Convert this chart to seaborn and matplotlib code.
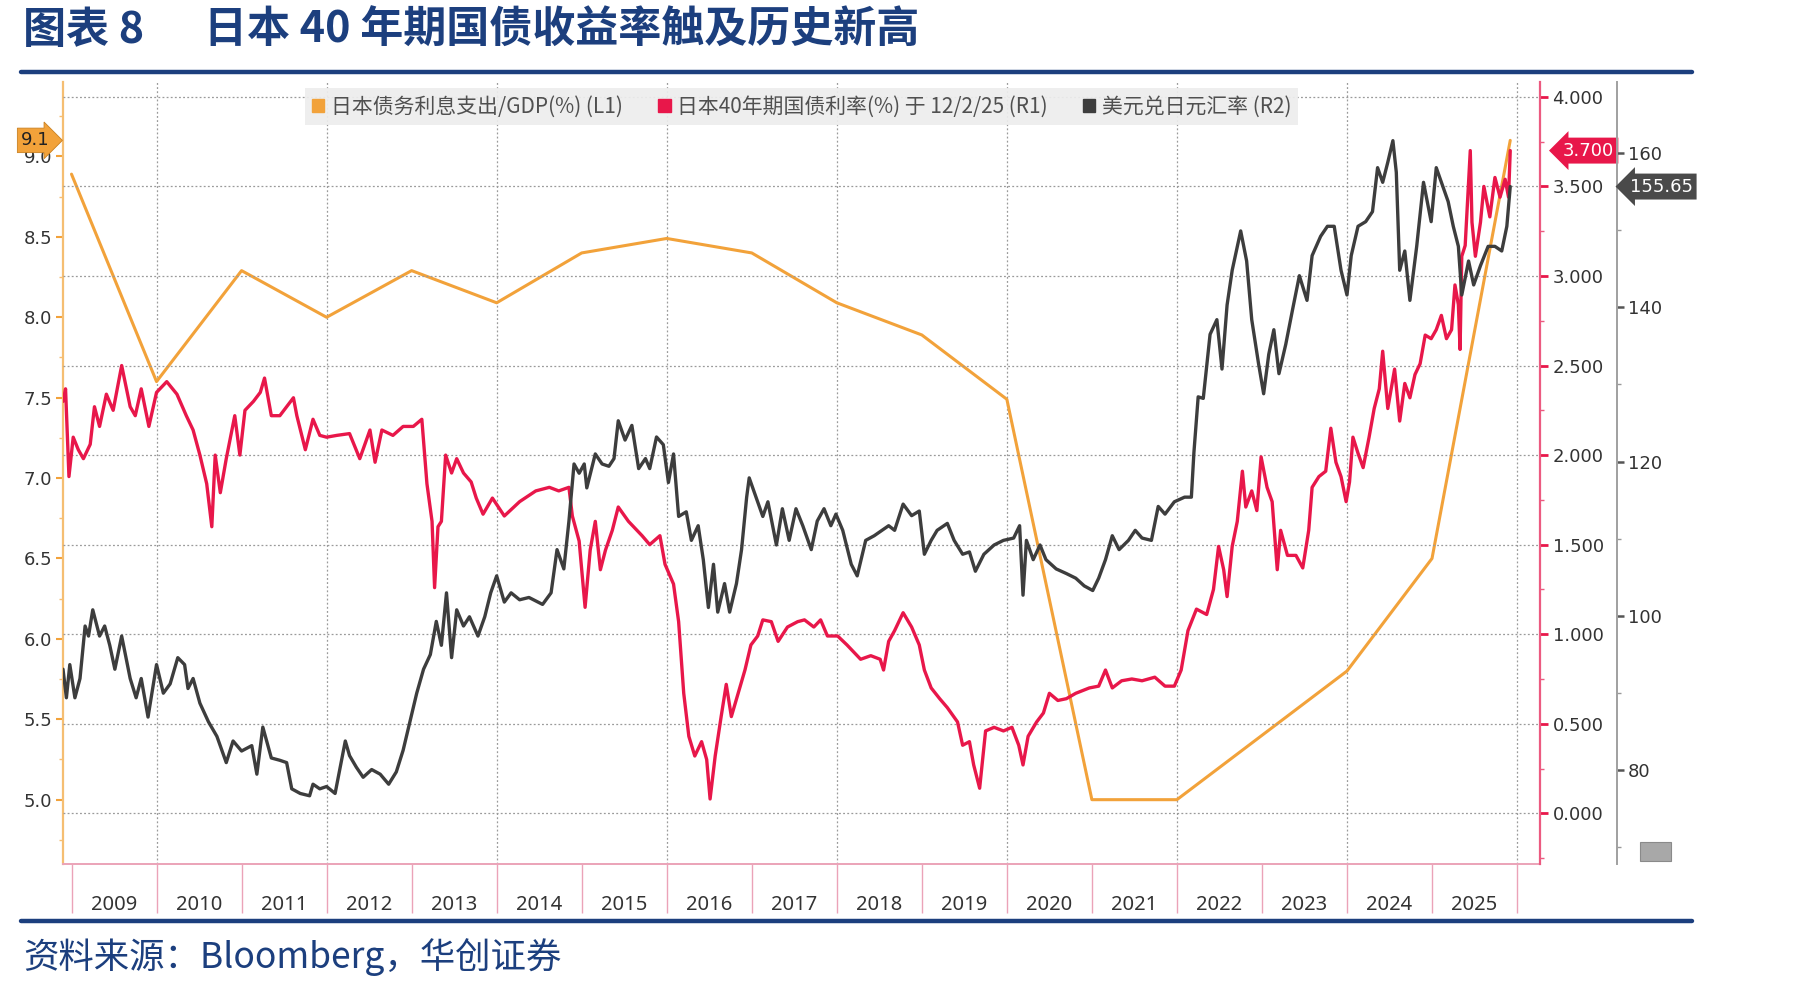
import matplotlib
matplotlib.use("Agg")
import matplotlib.pyplot as plt
import matplotlib.transforms as mtransforms
from matplotlib.patches import Patch, Rectangle
from matplotlib.lines import Line2D
from matplotlib.ticker import FixedLocator, FormatStrFormatter
import seaborn as sns

# ---------- 数据 ---------- #
debt_years = [2009, 2010, 2011, 2012, 2013, 2014, 2015, 2016, 2017, 2018,
              2019, 2020, 2021, 2022, 2023, 2024, 2025, 2025.92]
debt_gdp = [8.89, 7.60, 8.29, 8.00, 8.29, 8.09, 8.40, 8.49, 8.40, 8.09,
            7.89, 7.49, 5.00, 5.00, 5.40, 5.80, 6.50, 9.10]

jgb40_t = [2008.90, 2008.93, 2008.97, 2009.02, 2009.08, 2009.14, 2009.22, 2009.27, 2009.33, 2009.41,
           2009.49, 2009.59, 2009.69, 2009.75, 2009.82, 2009.91, 2010.00, 2010.12, 2010.24, 2010.35,
           2010.43, 2010.51, 2010.59, 2010.65, 2010.69, 2010.75, 2010.82, 2010.92, 2010.98, 2011.04,
           2011.14, 2011.22, 2011.27, 2011.35, 2011.45, 2011.53, 2011.61, 2011.65, 2011.75, 2011.84,
           2011.92, 2012.00, 2012.12, 2012.27, 2012.39, 2012.51, 2012.57, 2012.65, 2012.78, 2012.90,
           2013.02, 2013.12, 2013.18, 2013.24, 2013.27, 2013.31, 2013.35, 2013.40, 2013.47, 2013.53,
           2013.61, 2013.70, 2013.76, 2013.84, 2013.95, 2014.09, 2014.27, 2014.46, 2014.62, 2014.73,
           2014.85, 2014.89, 2014.97, 2015.04, 2015.10, 2015.16, 2015.22, 2015.28, 2015.36, 2015.43,
           2015.55, 2015.71, 2015.80, 2015.92, 2015.98, 2016.08, 2016.14, 2016.20, 2016.26, 2016.33,
           2016.41, 2016.47, 2016.51, 2016.57, 2016.64, 2016.70, 2016.76, 2016.84, 2016.92, 2016.99,
           2017.07, 2017.13, 2017.23, 2017.31, 2017.42, 2017.54, 2017.62, 2017.73, 2017.81, 2017.89,
           2018.01, 2018.12, 2018.28, 2018.40, 2018.51, 2018.55, 2018.61, 2018.68, 2018.78, 2018.88,
           2018.97, 2019.03, 2019.11, 2019.21, 2019.30, 2019.42, 2019.48, 2019.56, 2019.61, 2019.68,
           2019.75, 2019.85, 2019.96, 2020.06, 2020.14, 2020.19, 2020.25, 2020.35, 2020.43, 2020.50,
           2020.60, 2020.70, 2020.81, 2020.97, 2021.08, 2021.16, 2021.24, 2021.35, 2021.47, 2021.59,
           2021.74, 2021.86, 2021.97, 2022.05, 2022.13, 2022.23, 2022.35, 2022.43, 2022.49, 2022.55,
           2022.59, 2022.65, 2022.71, 2022.77, 2022.81, 2022.88, 2022.94, 2022.99, 2023.06, 2023.12,
           2023.18, 2023.22, 2023.30, 2023.40, 2023.48, 2023.55, 2023.59, 2023.67, 2023.75, 2023.81,
           2023.87, 2023.93, 2023.99, 2024.03, 2024.07, 2024.13, 2024.19, 2024.26, 2024.32, 2024.38,
           2024.42, 2024.48, 2024.56, 2024.62, 2024.68, 2024.74, 2024.80, 2024.86, 2024.92, 2024.99,
           2025.05, 2025.11, 2025.17, 2025.23, 2025.27, 2025.31, 2025.33, 2025.35, 2025.39, 2025.45,
           2025.47, 2025.51, 2025.57, 2025.61, 2025.68, 2025.74, 2025.80, 2025.86, 2025.90, 2025.92]
jgb40 = [2.30, 2.37, 1.88, 2.10, 2.03, 1.98, 2.06, 2.27, 2.16, 2.34,
         2.25, 2.50, 2.27, 2.22, 2.37, 2.16, 2.35, 2.41, 2.34, 2.22,
         2.14, 2.00, 1.84, 1.60, 2.00, 1.79, 1.98, 2.22, 2.00, 2.25,
         2.30, 2.35, 2.43, 2.22, 2.22, 2.27, 2.32, 2.22, 2.03, 2.20,
         2.11, 2.10, 2.11, 2.12, 1.98, 2.14, 1.96, 2.14, 2.11, 2.16,
         2.16, 2.20, 1.84, 1.63, 1.26, 1.60, 1.63, 2.00, 1.90, 1.98,
         1.90, 1.85, 1.76, 1.67, 1.76, 1.66, 1.74, 1.80, 1.82, 1.80,
         1.82, 1.66, 1.52, 1.15, 1.47, 1.63, 1.36, 1.47, 1.58, 1.71,
         1.63, 1.55, 1.50, 1.55, 1.39, 1.28, 1.07, 0.67, 0.43, 0.32,
         0.40, 0.30, 0.08, 0.32, 0.54, 0.72, 0.54, 0.67, 0.80, 0.94,
         0.99, 1.08, 1.07, 0.96, 1.04, 1.07, 1.08, 1.04, 1.08, 0.99,
         0.99, 0.94, 0.86, 0.88, 0.86, 0.80, 0.96, 1.02, 1.12, 1.04,
         0.94, 0.80, 0.70, 0.64, 0.59, 0.51, 0.38, 0.40, 0.27, 0.14,
         0.46, 0.48, 0.46, 0.48, 0.38, 0.27, 0.43, 0.51, 0.56, 0.67,
         0.63, 0.64, 0.67, 0.70, 0.71, 0.80, 0.70, 0.74, 0.75, 0.74,
         0.76, 0.71, 0.71, 0.80, 1.02, 1.14, 1.11, 1.25, 1.49, 1.36,
         1.21, 1.49, 1.63, 1.91, 1.71, 1.80, 1.69, 1.99, 1.82, 1.74,
         1.36, 1.58, 1.44, 1.44, 1.37, 1.58, 1.82, 1.88, 1.91, 2.15,
         1.96, 1.88, 1.74, 1.85, 2.10, 2.01, 1.93, 2.10, 2.26, 2.37,
         2.58, 2.26, 2.48, 2.19, 2.40, 2.32, 2.45, 2.51, 2.67, 2.65,
         2.70, 2.78, 2.65, 2.70, 2.95, 2.84, 2.59, 3.11, 3.17, 3.70,
         3.30, 3.11, 3.30, 3.50, 3.33, 3.55, 3.44, 3.54, 3.44, 3.70]

usdjpy_t = [2008.90, 2008.94, 2008.98, 2009.04, 2009.10, 2009.16, 2009.20, 2009.25, 2009.33, 2009.39,
            2009.45, 2009.51, 2009.59, 2009.69, 2009.76, 2009.82, 2009.90, 2010.00, 2010.08, 2010.16,
            2010.25, 2010.33, 2010.37, 2010.43, 2010.51, 2010.61, 2010.71, 2010.82, 2010.90, 2011.00,
            2011.12, 2011.18, 2011.25, 2011.35, 2011.45, 2011.53, 2011.59, 2011.69, 2011.80, 2011.84,
            2011.92, 2012.00, 2012.10, 2012.22, 2012.27, 2012.35, 2012.43, 2012.53, 2012.63, 2012.73,
            2012.82, 2012.90, 2012.98, 2013.06, 2013.14, 2013.22, 2013.29, 2013.35, 2013.41, 2013.47,
            2013.53, 2013.61, 2013.68, 2013.78, 2013.86, 2013.93, 2014.00, 2014.09, 2014.17, 2014.27,
            2014.38, 2014.54, 2014.64, 2014.71, 2014.79, 2014.85, 2014.91, 2014.97, 2015.03, 2015.06,
            2015.16, 2015.24, 2015.32, 2015.38, 2015.43, 2015.51, 2015.59, 2015.67, 2015.75, 2015.80,
            2015.88, 2015.96, 2016.02, 2016.08, 2016.14, 2016.23, 2016.29, 2016.37, 2016.43, 2016.49,
            2016.55, 2016.60, 2016.68, 2016.74, 2016.82, 2016.88, 2016.94, 2016.97, 2017.05, 2017.13,
            2017.19, 2017.29, 2017.36, 2017.44, 2017.52, 2017.60, 2017.70, 2017.77, 2017.85, 2017.93,
            2017.99, 2018.07, 2018.17, 2018.24, 2018.34, 2018.44, 2018.61, 2018.68, 2018.78, 2018.88,
            2018.97, 2019.03, 2019.11, 2019.18, 2019.30, 2019.38, 2019.48, 2019.56, 2019.63, 2019.73,
            2019.85, 2019.96, 2020.08, 2020.15, 2020.19, 2020.23, 2020.31, 2020.39, 2020.46, 2020.58,
            2020.70, 2020.81, 2020.91, 2021.01, 2021.08, 2021.16, 2021.24, 2021.32, 2021.43, 2021.51,
            2021.59, 2021.70, 2021.78, 2021.86, 2021.97, 2022.09, 2022.17, 2022.20, 2022.25, 2022.31,
            2022.39, 2022.47, 2022.53, 2022.59, 2022.65, 2022.75, 2022.82, 2022.88, 2022.96, 2023.02,
            2023.08, 2023.14, 2023.20, 2023.28, 2023.36, 2023.44, 2023.53, 2023.59, 2023.69, 2023.77,
            2023.85, 2023.93, 2024.00, 2024.05, 2024.13, 2024.22, 2024.30, 2024.36, 2024.42, 2024.48,
            2024.54, 2024.58, 2024.62, 2024.68, 2024.74, 2024.82, 2024.90, 2024.99, 2025.05, 2025.11,
            2025.19, 2025.25, 2025.31, 2025.35, 2025.43, 2025.49, 2025.57, 2025.66, 2025.74, 2025.82,
            2025.88, 2025.92]
usdjpy = [93.1, 89.4, 93.7, 89.4, 91.9, 98.7, 97.4, 100.8, 97.4, 98.7,
          96.2, 93.1, 97.4, 91.9, 89.4, 91.9, 86.9, 93.7, 90.0, 91.2,
          94.6, 93.7, 90.6, 91.9, 88.7, 86.3, 84.4, 81.0, 83.8, 82.5,
          83.2, 79.5, 85.6, 81.6, 81.3, 81.0, 77.6, 77.0, 76.7, 78.2,
          77.6, 77.9, 77.0, 83.8, 81.9, 80.4, 79.1, 80.1, 79.5, 78.2,
          79.8, 82.6, 86.3, 90.0, 93.1, 95.0, 99.3, 96.2, 103.0, 94.6,
          100.8, 98.7, 99.9, 97.4, 99.9, 103.0, 105.2, 101.8, 103.0, 102.1,
          102.4, 101.5, 103.0, 108.6, 106.1, 112.3, 119.7, 118.5, 119.7, 116.6,
          121.0, 119.7, 119.4, 120.4, 125.3, 122.8, 124.7, 119.1, 120.4, 119.1,
          123.2, 122.2, 117.3, 121.0, 112.9, 113.5, 109.8, 111.7, 107.3, 101.1,
          106.7, 100.5, 104.2, 100.5, 104.2, 108.6, 115.4, 117.9, 115.4, 112.9,
          114.8, 109.2, 113.9, 109.8, 113.9, 111.7, 108.6, 112.3, 113.9, 111.7,
          113.2, 111.1, 106.7, 105.2, 109.8, 110.4, 111.7, 111.1, 114.5, 113.0,
          113.6, 108.0, 109.8, 111.1, 112.0, 109.8, 108.0, 108.3, 105.8, 108.0,
          109.2, 109.8, 110.1, 111.7, 102.7, 109.8, 107.3, 109.2, 107.3, 106.1,
          105.5, 104.9, 103.9, 103.3, 104.9, 107.3, 110.4, 108.6, 109.8, 111.1,
          110.1, 109.8, 114.2, 113.2, 114.8, 115.4, 115.4, 121.2, 128.4, 128.2,
          136.5, 138.4, 132.0, 140.3, 144.8, 149.9, 146.0, 138.4, 132.7, 128.8,
          133.9, 137.1, 131.4, 135.2, 139.7, 144.1, 140.9, 146.7, 149.2, 150.5,
          150.5, 144.8, 141.6, 146.7, 150.5, 151.1, 152.4, 158.1, 156.2, 158.8,
          161.6, 157.5, 144.8, 147.3, 140.9, 147.9, 156.2, 151.1, 158.1, 156.2,
          153.7, 150.5, 147.9, 141.6, 146.0, 142.9, 145.4, 147.9, 147.9, 147.3,
          150.5, 155.65]

year_labels = [str(y) for y in range(2009, 2026)]
legend_labels = ["日本债务利息支出/GDP(%) (L1)",
                 "日本40年期国债利率(%) 于 12/2/25 (R1)",
                 "美元兑日元汇率 (R2)"]
# ------------------------------------ #

C_ORANGE = "#F2A23A"
C_RED = "#E8174A"
C_GRAY = "#3D3D3D"
C_BLUE = "#1C3F7E"
CJK = ["Noto Sans CJK SC", "DejaVu Sans"]

sns.set_style("white")
plt.rcParams["font.family"] = ["DejaVu Sans", "Noto Sans CJK SC"]

W, H = 1801, 991
fig = plt.figure(figsize=(W / 100, H / 100), dpi=100)
ax = fig.add_axes([63 / W, 1 - 864 / H, (1540 - 63) / W, (864 - 82) / H])
ax_r1 = ax.twinx()
ax_r2 = ax.twinx()

# series
sns.lineplot(x=debt_years, y=debt_gdp, ax=ax, color=C_ORANGE, linewidth=2.2)
sns.lineplot(x=jgb40_t, y=jgb40, ax=ax_r1, color=C_RED, linewidth=2.4)
sns.lineplot(x=usdjpy_t, y=usdjpy, ax=ax_r2, color=C_GRAY, linewidth=2.4)

ax.set_xlim(2008.9, 2026.27)
ax.set_ylim(4.6, 9.463)
ax_r1.set_ylim(-0.283, 4.083)
ax_r2.set_ylim(67.86, 169.2)
for a in (ax, ax_r1, ax_r2):
    a.set_xlabel("")
    a.set_ylabel("")
    a.spines["top"].set_visible(False)

# grid: horizontal from R1, vertical every two years
ax_r1.set_yticks([0, 0.5, 1, 1.5, 2, 2.5, 3, 3.5, 4])
ax_r1.yaxis.grid(True, linestyle=(0, (1.5, 1.8)), color="#9a9a9a", linewidth=0.9)
for gx in range(2010, 2027, 2):
    ax.axvline(gx, color="#9a9a9a", linestyle=(0, (1.5, 1.8)), linewidth=0.9, zorder=0)

# left axis (L1)
ax.spines["left"].set_color("#F5BE72")
ax.spines["left"].set_linewidth(1.6)
ax.spines["right"].set_visible(False)
ax.spines["bottom"].set_color("#EBA3B8")
ax.spines["bottom"].set_linewidth(1.4)
ax.set_yticks([5.0, 5.5, 6.0, 6.5, 7.0, 7.5, 8.0, 8.5, 9.0])
ax.yaxis.set_minor_locator(FixedLocator([4.75, 5.25, 5.75, 6.25, 6.75, 7.25, 7.75, 8.25, 8.75, 9.25]))
ax.yaxis.set_major_formatter(FormatStrFormatter("%.1f"))
ax.tick_params(axis="y", which="major", direction="out", length=5, width=1.5,
               color=C_ORANGE, labelsize=13, labelcolor="#333333", pad=3, left=True)
ax.tick_params(axis="y", which="minor", direction="out", length=3, width=1, color="#F5BE72", left=True)

# x axis: year separators + centred labels
ax.set_xticks(list(range(2009, 2027)))
ax.set_xticklabels([""] * 18)
ax.xaxis.set_minor_locator(FixedLocator([y + 0.5 for y in range(2009, 2026)]))
ax.set_xticklabels(year_labels, minor=True, fontfamily="Noto Sans", fontsize=14.5, color="#333333")
ax.tick_params(axis="x", which="major", direction="out", length=35, width=1, color="#EBA3B8", bottom=True)
ax.tick_params(axis="x", which="minor", length=0, pad=22, bottom=True)

# R1
for s in ("left", "bottom"):
    ax_r1.spines[s].set_visible(False)
ax_r1.spines["right"].set_color("#EC5A80")
ax_r1.spines["right"].set_linewidth(1.6)
ax_r1.yaxis.set_minor_locator(FixedLocator([-0.25, 0.25, 0.75, 1.25, 1.75, 2.25, 2.75, 3.25, 3.75]))
ax_r1.yaxis.set_major_formatter(FormatStrFormatter("%.3f"))
ax_r1.tick_params(axis="y", which="major", direction="out", length=6, width=2,
                  color=C_RED, labelsize=13, labelcolor="#333333", pad=3, right=True)
ax_r1.tick_params(axis="y", which="minor", direction="out", length=3, width=1, color="#EC5A80", right=True)

# R2
for s in ("left", "bottom"):
    ax_r2.spines[s].set_visible(False)
ax_r2.spines["right"].set_position(("axes", 1 + 77 / 1477))
ax_r2.spines["right"].set_color("#A0A0A0")
ax_r2.spines["right"].set_linewidth(1.4)
ax_r2.set_yticks([80, 100, 120, 140, 160])
ax_r2.yaxis.set_minor_locator(FixedLocator([70, 90, 110, 130, 150]))
ax_r2.tick_params(axis="y", which="major", direction="out", length=5, width=1.8,
                  color="#555555", labelsize=13, labelcolor="#333333", pad=3, right=True)
ax_r2.tick_params(axis="y", which="minor", direction="out", length=3, width=1, color="#999999", right=True)

# value tags
tr1 = mtransforms.blended_transform_factory(ax_r1.transAxes, ax_r1.transData)
ax_r1.text(1.033, jgb40[-1], "3.700", transform=tr1, ha="center", va="center", color="white",
           fontsize=13, clip_on=False,
           bbox=dict(boxstyle="larrow,pad=0.22", fc=C_RED, ec="none"), zorder=10)
tr2 = mtransforms.blended_transform_factory(ax_r2.transAxes, ax_r2.transData)
ax_r2.text(1.082, usdjpy[-1], "155.65", transform=tr2, ha="center", va="center", color="white",
           fontsize=13, clip_on=False,
           bbox=dict(boxstyle="larrow,pad=0.22", fc="#4A4A4A", ec="none"), zorder=10)
tr0 = mtransforms.blended_transform_factory(ax.transAxes, ax.transData)
ax.text(-0.019, debt_gdp[-1], "9.1", transform=tr0, ha="center", va="center", color="#222222",
        fontsize=13, clip_on=False,
        bbox=dict(boxstyle="rarrow,pad=0.18", fc=C_ORANGE, ec="#C98020", lw=0.6), zorder=10)

# legend
handles = [Patch(color=C_ORANGE), Patch(color=C_RED), Patch(color=C_GRAY)]
leg = ax_r2.legend(handles, legend_labels, loc="upper center", bbox_to_anchor=(0.5, 0.992),
                   borderaxespad=0, ncol=3, frameon=True, fancybox=False, facecolor="#EDEDED",
                   edgecolor="none", framealpha=0.92, handlelength=0.6, handleheight=0.6,
                   handletextpad=0.3, columnspacing=1.7, borderpad=0.35, labelcolor="#505050",
                   prop={"family": CJK, "size": 15})

# small icon bottom right
fig.add_artist(Rectangle((1640 / W, 1 - 861 / H), 31 / W, 19 / H, transform=fig.transFigure,
                         fc="#A8A8A8", ec="#8A8A8A", lw=0.8))

# title, rules and source
fig.text(23 / W, 1 - 30 / H, "图表 8", fontsize=31, fontweight="bold", color=C_BLUE,
         family=CJK, va="center", ha="left")
fig.text(204 / W, 1 - 30 / H, "日本 40 年期国债收益率触及历史新高", fontsize=31, fontweight="bold",
         color=C_BLUE, family=CJK, va="center", ha="left")
for yy in (72, 921):
    fig.add_artist(Line2D([21 / W, 1692 / W], [1 - yy / H] * 2, color=C_BLUE, linewidth=3.2))
fig.text(23 / W, 1 - 957 / H, "资料来源：Bloomberg，华创证券", fontsize=25.5, color=C_BLUE,
         family=CJK, style="italic", va="center", ha="left")

fig.savefig("out.png", dpi=100)
